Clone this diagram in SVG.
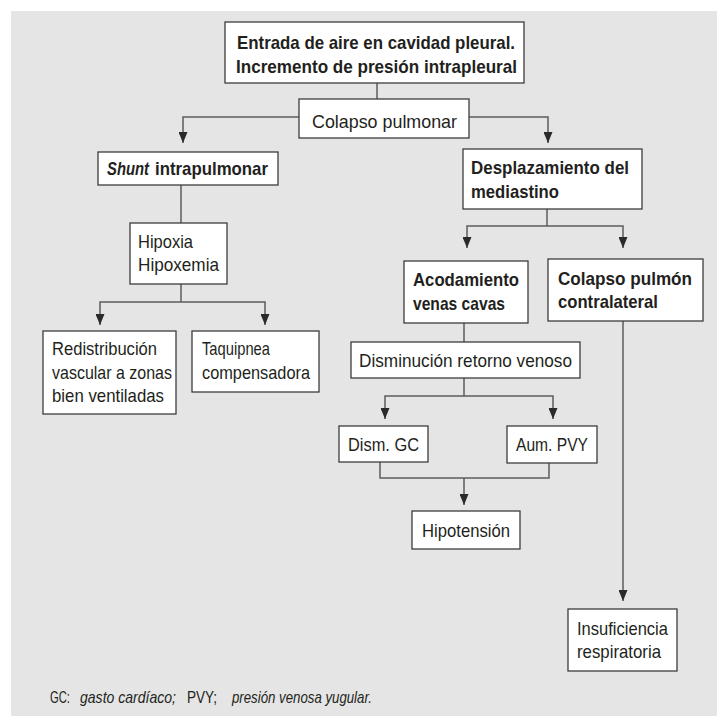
<svg xmlns="http://www.w3.org/2000/svg" width="717" height="716" viewBox="0 0 717 716">
<defs>
<marker id="arr" viewBox="0 0 11 9" refX="11" refY="4.5" markerWidth="11" markerHeight="9" markerUnits="userSpaceOnUse" orient="auto">
<path d="M0,0 L11,4.5 L0,9 Z" fill="#2a2a2a"/>
</marker>
<style>
.bg{fill:#e5e5e5}
.box{fill:#ffffff;stroke:#3c3c3c;stroke-width:1.3}
.t{font-family:"Liberation Sans",Arial,sans-serif;font-size:19px;fill:#231f20}
.b{font-weight:bold}
.i{font-style:italic}
.ln{fill:none;stroke:#5c5c5c;stroke-width:1.5}
.ft{font-family:"Liberation Sans",Arial,sans-serif;font-size:17px;fill:#231f20}
</style>
</defs>
<rect class="bg" x="11" y="11" width="706" height="705"/>

<g id="connectors">
<path class="ln" d="M377,83 V99"/>
<path class="ln" d="M299,117 H183 V143" marker-end="url(#arr)"/>
<path class="ln" d="M469,117 H548 V143" marker-end="url(#arr)"/>
<path class="ln" d="M181,185 V223"/>
<path class="ln" d="M181,284 V302"/>
<path class="ln" d="M181,302 H100 V325" marker-end="url(#arr)"/>
<path class="ln" d="M181,302 H265 V325" marker-end="url(#arr)"/>
<path class="ln" d="M547,209 V226"/>
<path class="ln" d="M547,226 H467 V248" marker-end="url(#arr)"/>
<path class="ln" d="M547,226 H623 V248" marker-end="url(#arr)"/>
<path class="ln" d="M464,323 V342"/>
<path class="ln" d="M464,378 V396"/>
<path class="ln" d="M464,396 H385 V419" marker-end="url(#arr)"/>
<path class="ln" d="M464,396 H553 V419" marker-end="url(#arr)"/>
<path class="ln" d="M380,462 V478 H549 V463"/>
<path class="ln" d="M464,478 V505" marker-end="url(#arr)"/>
<path class="ln" d="M623,321 V601" marker-end="url(#arr)"/>
</g>

<g id="n-entrada">
<rect class="box" x="225" y="22" width="299" height="61"/>
<text class="t b" x="237" y="49" textLength="278" lengthAdjust="spacingAndGlyphs">Entrada de aire en cavidad pleural.</text>
<text class="t b" x="236" y="73" textLength="281" lengthAdjust="spacingAndGlyphs">Incremento de presión intrapleural</text>
</g>

<g id="n-colapso">
<rect class="box" x="299" y="99" width="170" height="39"/>
<text class="t" x="312" y="128" textLength="145" lengthAdjust="spacingAndGlyphs">Colapso pulmonar</text>
</g>

<g id="n-shunt">
<rect class="box" x="98" y="152" width="180" height="33"/>
<text class="t b" x="107" y="175"><tspan class="i" textLength="42" lengthAdjust="spacingAndGlyphs">Shunt</tspan><tspan x="155" textLength="113" lengthAdjust="spacingAndGlyphs">intrapulmonar</tspan></text>
</g>

<g id="n-hipoxia">
<rect class="box" x="130" y="223" width="97" height="61"/>
<text class="t" x="138" y="248" textLength="55" lengthAdjust="spacingAndGlyphs">Hipoxia</text>
<text class="t" x="138" y="271" textLength="81" lengthAdjust="spacingAndGlyphs">Hipoxemia</text>
</g>

<g id="n-redistribucion">
<rect class="box" x="43" y="331" width="133" height="83"/>
<text class="t" x="52" y="355" textLength="105" lengthAdjust="spacingAndGlyphs">Redistribución</text>
<text class="t" x="52" y="379" textLength="120" lengthAdjust="spacingAndGlyphs">vascular a zonas</text>
<text class="t" x="52" y="402" textLength="112" lengthAdjust="spacingAndGlyphs">bien ventiladas</text>
</g>

<g id="n-taquipnea">
<rect class="box" x="192" y="331" width="127" height="61"/>
<text class="t" x="202" y="355" textLength="68" lengthAdjust="spacingAndGlyphs">Taquipnea</text>
<text class="t" x="202" y="379" textLength="108" lengthAdjust="spacingAndGlyphs">compensadora</text>
</g>

<g id="n-desplazamiento">
<rect class="box" x="463" y="149" width="179" height="60"/>
<text class="t b" x="471" y="174" textLength="158" lengthAdjust="spacingAndGlyphs">Desplazamiento del</text>
<text class="t b" x="471" y="198" textLength="88" lengthAdjust="spacingAndGlyphs">mediastino</text>
</g>

<g id="n-acodamiento">
<rect class="box" x="404" y="261" width="124" height="62"/>
<text class="t b" x="413" y="286" textLength="106" lengthAdjust="spacingAndGlyphs">Acodamiento</text>
<text class="t b" x="413" y="310" textLength="92" lengthAdjust="spacingAndGlyphs">venas cavas</text>
</g>

<g id="n-contralateral">
<rect class="box" x="548" y="259" width="155" height="62"/>
<text class="t b" x="558" y="285" textLength="134" lengthAdjust="spacingAndGlyphs">Colapso pulmón</text>
<text class="t b" x="558" y="308" textLength="100" lengthAdjust="spacingAndGlyphs">contralateral</text>
</g>

<g id="n-disminucion">
<rect class="box" x="351" y="342" width="229" height="36"/>
<text class="t" x="359" y="367" textLength="213" lengthAdjust="spacingAndGlyphs">Disminución retorno venoso</text>
</g>

<g id="n-dismgc">
<rect class="box" x="339" y="426" width="89" height="36"/>
<text class="t" x="348" y="451" textLength="71" lengthAdjust="spacingAndGlyphs">Dism. GC</text>
</g>

<g id="n-aumpvy">
<rect class="box" x="507" y="426" width="90" height="37"/>
<text class="t" x="516" y="451" textLength="72" lengthAdjust="spacingAndGlyphs">Aum. PVY</text>
</g>

<g id="n-hipotension">
<rect class="box" x="412" y="511" width="108" height="38"/>
<text class="t" x="422" y="537" textLength="88" lengthAdjust="spacingAndGlyphs">Hipotensión</text>
</g>

<g id="n-insuficiencia">
<rect class="box" x="568" y="609" width="109" height="62"/>
<text class="t" x="577" y="635" textLength="91" lengthAdjust="spacingAndGlyphs">Insuficiencia</text>
<text class="t" x="577" y="658" textLength="84" lengthAdjust="spacingAndGlyphs">respiratoria</text>
</g>

<g id="footer">
<text class="ft" x="50" y="703" textLength="20" lengthAdjust="spacingAndGlyphs">GC:</text>
<text class="ft i" x="80" y="703" textLength="96" lengthAdjust="spacingAndGlyphs">gasto cardíaco;</text>
<text class="ft" x="187" y="703" textLength="30" lengthAdjust="spacingAndGlyphs">PVY;</text>
<text class="ft i" x="232" y="703" textLength="140" lengthAdjust="spacingAndGlyphs">presión venosa yugular.</text>
</g>
</svg>
